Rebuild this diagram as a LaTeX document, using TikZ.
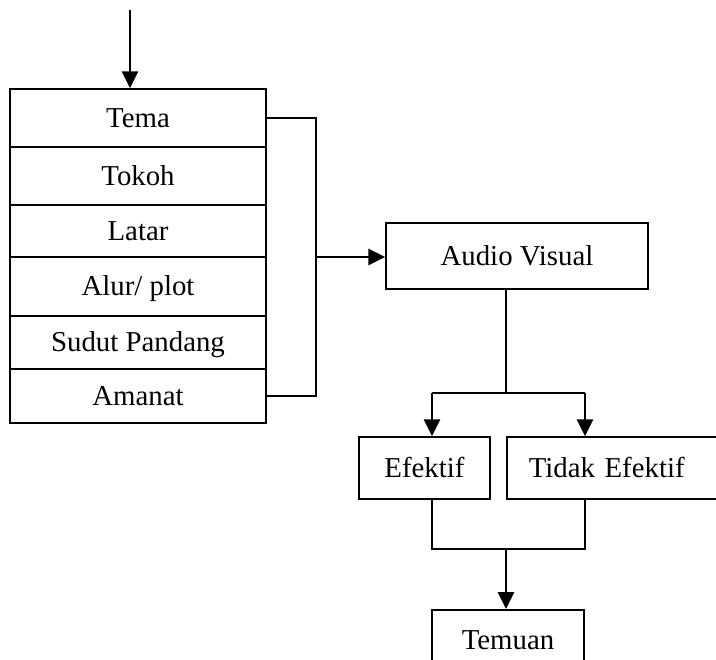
\documentclass[tikz,border=0pt]{standalone}
\usepackage{fontspec}
\setmainfont{Liberation Serif}
\usetikzlibrary{arrows.meta}
\begin{document}
\begin{tikzpicture}[x=0.025cm, y=-0.025cm, line width=1.1pt,
	box/.style={draw, inner sep=0pt, text height=13.5pt, text depth=0pt, font=\fontsize{20.5}{24}\selectfont},
	row/.style={box, minimum width=6.4cm},
	arr/.style={line width=1.6pt, -{Triangle[width=0.4cm,length=0.42cm]}}]
		\clip (0,0) rectangle (716,659);
		% unsur cerita
		\node[row, minimum height=1.45cm] (tema) at (138,118) {Tema};
		\node[row, minimum height=1.45cm] (tokoh) at (138,176) {Tokoh};
		\node[row, minimum height=1.3cm] (latar) at (138,231) {Latar};
		\node[row, minimum height=1.475cm] (alur) at (138,286.5) {Alur/ plot};
		\node[row, minimum height=1.325cm] (sudut) at (138,342.5) {Sudut Pandang};
		\node[row, minimum height=1.35cm] (amanat) at (138,396) {Amanat};
		\coordinate (masuk) at (130,10);
		\draw[arr] (masuk) -- (masuk |- tema.north);
		% media
		\node[box, minimum width=6.55cm, minimum height=1.65cm] (audio) at (517,256) {Audio Visual};
		\coordinate (gabung) at (316,257);
		\draw (tema.east) -| (gabung) |- (amanat.east);
		\draw[arr] (gabung) -- (audio.west |- gabung);
		% hasil
		\node[box, minimum width=3.275cm, minimum height=1.55cm] (efektif) at (424.5,468) {Efektif};
		\node[box, anchor=west, align=left, text width=5cm, inner xsep=0.55cm, minimum height=1.55cm] (tidak) at (506,468) {Tidak Efektif};
		\coordinate (cabang) at (506,393);
		\coordinate (kiri) at (432,393);
		\coordinate (kanan) at (585,393);
		\draw (audio.south -| cabang) -- (cabang);
		\draw[line width=1.6pt] (kiri) -- (kanan);
		\draw[arr] (kiri) -- (kiri |- efektif.north);
		\draw[arr] (kanan) -- (kanan |- tidak.north);
		% temuan
		\node[box, anchor=north, minimum width=3.8cm, minimum height=1.5cm] (temuan) at (508,609) {Temuan};
		\coordinate (bawah) at (506,549);
		\draw (efektif.south -| kiri) -- (kiri |- bawah) -- (kanan |- bawah) -- (tidak.south -| kanan);
		\draw[arr] (bawah) -- (bawah |- temuan.north);
\end{tikzpicture}
\end{document}
